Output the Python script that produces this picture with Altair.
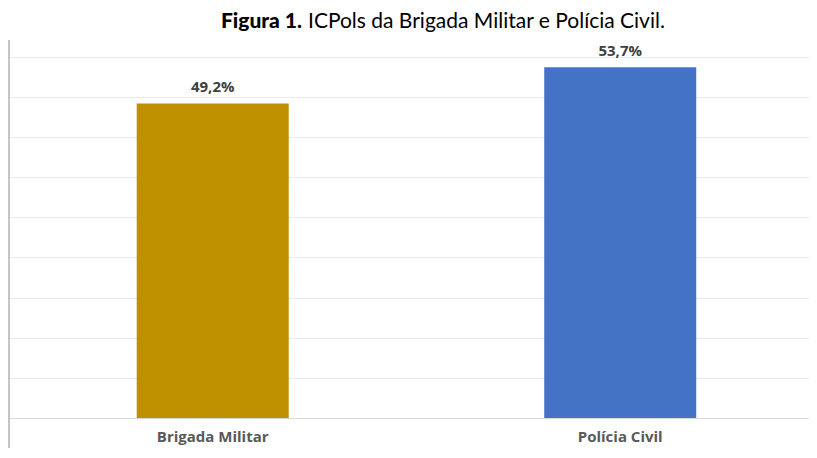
import altair as alt
import pandas as pd

# ---- data ----
categories = ["Brigada Militar", "Polícia Civil"]
values = [49.2, 53.7]
bar_colors = ["#BF9000", "#4472C4"]
value_labels = ["49,2%", "53,7%"]
y_ticks = [10, 15, 20, 25, 30, 35, 40, 45, 50, 55]
y_domain = [10, 57.1]
title_bold = "Figura 1."
title_rest = "ICPols da Brigada Militar e Polícia Civil."

df = pd.DataFrame({"cat": categories, "val": values, "color": bar_colors, "label": value_labels})

W, H = 801, 378
TOP, BOTTOM = 32, 30

x = alt.X(
    "cat:N", sort=categories, title=None,
    scale=alt.Scale(paddingInner=0.627, paddingOuter=0.2963, align=0.533),
    axis=alt.Axis(labelAngle=0, labelFont="Open Sans", labelFontWeight="bold", labelFontSize=15,
                  labelColor="#595959", labelPadding=11, ticks=False, domain=False),
)
y = alt.Y(
    "val:Q", title=None,
    scale=alt.Scale(domain=y_domain, zero=False, nice=False, clamp=True),
    axis=alt.Axis(values=y_ticks, labels=False, ticks=False, domain=False, grid=True,
                  gridColor=alt.condition(alt.datum.value == 10, alt.value("#d9d9d9"), alt.value("#e6ecf3")),
                  gridWidth=1),
)

bars = alt.Chart(df).mark_bar().encode(x=x, y=y, color=alt.Color("color:N", scale=None, legend=None))
labels = alt.Chart(df).mark_text(font="Open Sans", fontWeight="bold", fontSize=15, color="#404040",
                                 baseline="alphabetic", dy=-11).encode(x=x, y=y, text="label:N")

tdf = pd.DataFrame({"a": [title_bold], "b": [title_rest]})
t1 = alt.Chart(tdf).mark_text(font="Lato", fontWeight=900, fontSize=21, color="#000000",
                              align="right", baseline="alphabetic").encode(
    x=alt.value(294), y=alt.value(-12), text="a:N")
t2 = alt.Chart(tdf).mark_text(font="Lato", fontWeight="normal", fontSize=21, color="#000000",
                              align="left", baseline="alphabetic").encode(
    x=alt.value(300), y=alt.value(-12), text="b:N")

edge = alt.Chart(tdf).mark_rule(color="#c4c4c4", strokeWidth=2).encode(
    x=alt.value(1), y=alt.value(0), y2=alt.value(H + BOTTOM))

chart = alt.layer(bars, labels, t1, t2, edge).properties(
    width=W, height=H,
    padding={"left": 0, "top": TOP, "right": 0, "bottom": BOTTOM},
    autosize=alt.AutoSizeParams(type="none"),
    background="white",
).configure_view(stroke=None)

chart.save("out.html", embed_options={"renderer": "svg", "actions": False})
